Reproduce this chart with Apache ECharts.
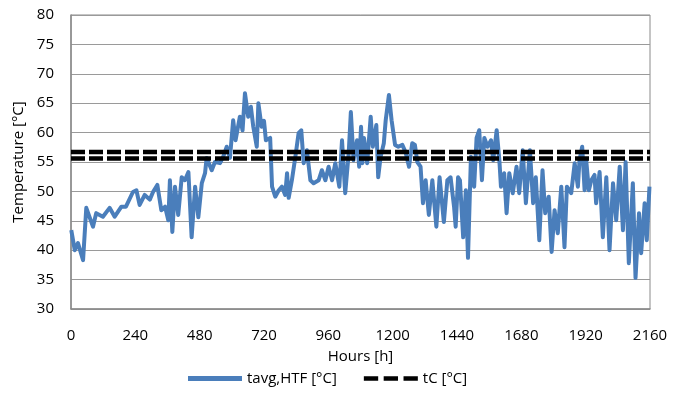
<!DOCTYPE html>
<html>
<head>
<meta charset="utf-8">
<title>Temperature</title>
<script src="https://cdn.jsdelivr.net/npm/echarts@6/dist/echarts.min.js"></script>
<style>
html,body{margin:0;padding:0;background:#fff;}
#charts{width:673px;height:398px;}
</style>
</head>
<body>
<div id="charts"></div>
<script>
// 横轴刻度 (h)
var xTicks = [0,240,480,720,960,1200,1440,1680,1920,2160];
// 读图得到的时刻 (h)
var hours = [1,14,26,45,57,82,94,119,144,163,188,205,231,244,256,275,294,306,322,337,
	351,363,369,378,388,400,413,425,438,450,463,475,488,500,506,525,537,556,568,581,
	593,605,614,630,640,649,661,671,680,693,699,711,720,727,743,750,762,775,787,799,
	806,812,824,837,849,859,868,880,893,905,924,936,949,961,974,986,1001,1011,1023,1036,
	1044,1054,1067,1075,1082,1087,1093,1105,1118,1126,1139,1146,1155,1167,1174,1186,1196,1209,1221,1236,
	1248,1261,1273,1283,1292,1304,1313,1323,1335,1348,1363,1375,1391,1404,1416,1429,1435,1444,1451,1463,
	1473,1481,1492,1504,1513,1523,1533,1542,1554,1567,1575,1588,1598,1604,1616,1625,1635,1648,1662,1672,
	1685,1697,1712,1724,1734,1747,1759,1769,1782,1793,1804,1816,1829,1841,1850,1866,1879,1891,1897,1907,
	1916,1922,1932,1941,1953,1959,1972,1984,1997,2009,2022,2034,2047,2059,2069,2081,2096,2106,2119,2127,
	2140,2148,2158];
// tavg,HTF (°C)
var tavg = [43.4,40.0,41.2,38.3,47.2,44.0,46.3,45.7,47.2,45.7,47.4,47.4,49.9,50.2,47.7,49.4,48.6,49.9,51.1,46.8,
	47.4,45.1,51.9,43.1,50.8,46.0,52.4,51.9,53.3,42.2,50.8,45.6,51.4,53.1,55.7,53.6,55.0,54.8,55.9,57.6,
	55.7,62.1,58.7,62.7,60.4,66.7,62.7,64.4,61.0,57.6,65.0,61.0,62.0,58.7,59.1,50.8,49.1,50.2,50.8,49.4,
	53.1,48.9,51.9,55.9,59.9,60.4,54.8,57.0,51.9,51.4,51.9,53.6,51.9,54.2,51.9,54.8,50.8,58.7,49.7,56.5,
	63.5,55.3,58.7,54.2,61.0,54.8,59.1,54.8,62.7,57.6,61.3,52.4,55.9,58.2,62.1,66.4,62.1,57.9,57.6,57.9,
	56.7,54.2,58.2,57.9,55.0,54.2,48.0,51.9,46.0,51.9,44.0,52.4,44.8,51.9,52.4,47.4,44.0,52.4,51.9,42.2,
	50.2,38.7,55.9,50.8,59.1,60.4,51.9,59.1,57.6,58.7,55.3,60.4,55.3,50.8,53.1,46.3,53.1,49.7,54.2,49.7,
	57.0,48.0,57.0,48.0,52.4,41.7,53.6,46.3,49.1,39.7,46.8,42.9,50.8,40.5,50.8,49.7,54.8,50.8,55.3,57.6,
	50.2,55.3,50.2,51.9,52.8,48.0,53.3,42.2,52.4,40.0,51.4,45.1,54.2,43.4,55.0,37.8,51.4,35.3,46.3,39.5,
	48.0,41.7,50.8];
// tC (°C) 两条界线
var tcUpper = 56.7;
var tcLower = 55.6;

function showChart(){
	var charts = echarts.init(document.getElementById("charts"));
	var lineData = [];
	for(var i=0;i<hours.length;i++){
		lineData.push([hours[i], tavg[i]]);
	}
	var xMax = xTicks[xTicks.length-1];
	var dashStyle = {color:'#000000', width:4.5, type:[14,4]};
	var font = '"Open Sans", Lato, sans-serif';
	var option = {
		animation:false,
		backgroundColor:'#ffffff',
		grid:{
			left:71,
			right:23,
			top:15,
			bottom:89,
			show:true,
			borderColor:'#8a8a8a',
			borderWidth:1
		},
		legend:{
			data:[{
				name:'tavg,HTF [°C]',
				icon:'rect',
				itemStyle:{color:'#4A7EBB'}
			},{
				name:'tC [°C]',
				icon:'path://M0,0h13v4h-13zM18,0h13v4h-13zM36,0h13v4h-13z',
				itemStyle:{color:'#000000'}
			}],
			bottom:7,
			left:183,
			itemWidth:54,
			itemHeight:5,
			itemGap:27,
			textStyle:{fontFamily:font, fontSize:15, color:'#000'}
		},
		xAxis:{
			type:'value',
			min:0,
			max:xMax,
			interval:xTicks[1]-xTicks[0],
			name:'Hours [h]',
			nameLocation:'middle',
			nameGap:40,
			nameTextStyle:{fontFamily:font, fontSize:15, color:'#000'},
			axisLine:{show:true, lineStyle:{color:'#8a8a8a', width:1.5}},
			axisTick:{show:false},
			axisLabel:{margin:19, fontFamily:font, fontSize:15, color:'#000',
				formatter:function(v){ return String(v); }},
			splitLine:{show:false}
		},
		yAxis:{
			type:'value',
			min:30,
			max:80,
			interval:5,
			name:'Temperature [°C]',
			nameLocation:'middle',
			nameGap:44,
			nameTextStyle:{fontFamily:font, fontSize:15, color:'#000'},
			axisLine:{show:true, lineStyle:{color:'#8a8a8a', width:1.5}},
			axisTick:{show:false},
			axisLabel:{margin:17, fontFamily:font, fontSize:15, color:'#000'},
			splitLine:{show:true, lineStyle:{color:'#9a9a9a', width:1.2}}
		},
		series:[{
			name:'tavg,HTF [°C]',
			type:'line',
			data:lineData,
			symbol:'none',
			color:'#4A7EBB',
			lineStyle:{color:'#4A7EBB', width:4, join:'round'},
			z:3
		},{
			name:'tC [°C]',
			type:'line',
			data:[[0,tcUpper],[xMax,tcUpper]],
			symbol:'none',
			color:'#000000',
			lineStyle:dashStyle,
			z:4
		},{
			name:'tC [°C]',
			type:'line',
			data:[[0,tcLower],[xMax,tcLower]],
			symbol:'none',
			color:'#000000',
			lineStyle:dashStyle,
			z:4
		}]
	};
	charts.setOption(option);
}
showChart();
</script>
</body>
</html>
